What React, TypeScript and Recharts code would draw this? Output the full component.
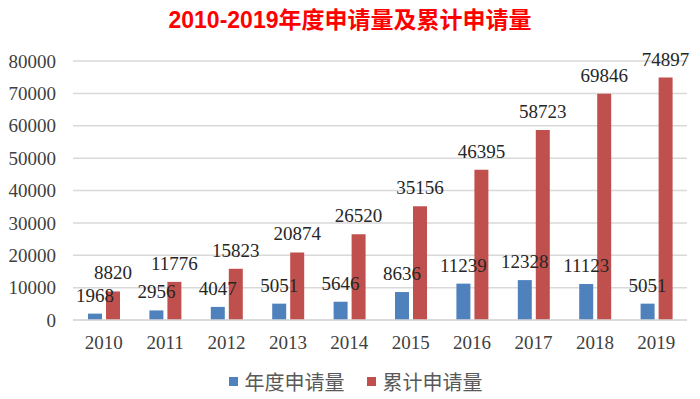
import React from "react";
import { BarChart, Bar, XAxis, YAxis, CartesianGrid, Legend, LabelList } from "recharts";

const years = ["2010", "2011", "2012", "2013", "2014", "2015", "2016", "2017", "2018", "2019"];
const annual = [1968, 2956, 4047, 5051, 5646, 8636, 11239, 12328, 11123, 5051];
const cumulative = [8820, 11776, 15823, 20874, 26520, 35156, 46395, 58723, 69846, 74897];
const yTicks = [0, 10000, 20000, 30000, 40000, 50000, 60000, 70000, 80000];

const data = years.map((y, i) => ({ year: y, annual: annual[i], cumulative: cumulative[i] }));

const BLUE = "#4F81BD";
const RED = "#C0504D";
const SERIF = "'Liberation Serif', 'DejaVu Serif', serif";
const CJK = "'Noto Sans CJK SC', 'Noto Sans', sans-serif";

const LegendContent = (props: any) => {
  const items = props.payload || [];
  return (
    <div style={{ display: "flex", justifyContent: "center", alignItems: "center", height: 30, paddingLeft: 24, fontFamily: CJK, fontSize: 20, color: "#595959" }}>
      {items.map((it: any, i: number) => (
        <div key={i} style={{ display: "flex", alignItems: "center", marginLeft: i ? 22 : 0 }}>
          <span style={{ width: 9, height: 9, background: it.color, display: "inline-block", marginRight: 7 }} />
          <span>{it.value}</span>
        </div>
      ))}
    </div>
  );
};

export default function App() {
  return (
    <div style={{ position: "absolute", left: 0, top: 0, width: 700, height: 399, background: "#fff" }}>
      <div
        style={{
          position: "absolute",
          left: 0,
          top: 6,
          width: 700,
          textAlign: "center",
          color: "#FF0000",
          fontWeight: "bold",
          fontSize: 23,
          fontFamily: "'Liberation Sans', 'Noto Sans CJK SC', sans-serif",
          lineHeight: "28px",
        }}
      >
        2010-2019年度申请量及累计申请量
      </div>
      <BarChart
        width={700}
        height={399}
        data={data}
        margin={{ top: 61, right: 13, left: 0, bottom: 3 }}
        barSize={14}
        barGap={4}
      >
        <CartesianGrid vertical={false} stroke="#d9d9d9" strokeWidth={1.5} />
        <XAxis
          dataKey="year"
          height={46}
          tickLine={false}
          axisLine={{ stroke: "#d9d9d9", strokeWidth: 1.5 }}
          tick={{ fill: "#404040", fontSize: 19, fontFamily: SERIF }}
          tickMargin={10}
          interval={0}
        />
        <YAxis
          width={73}
          domain={[0, 80000]}
          ticks={yTicks}
          tickLine={false}
          axisLine={false}
          tick={{ fill: "#404040", fontSize: 19, fontFamily: SERIF }}
          tickMargin={11}
          interval={0}
        />
        <Legend verticalAlign="bottom" height={30} content={<LegendContent />} />
        <Bar dataKey="annual" name="年度申请量" fill={BLUE} isAnimationActive={false}>
          <LabelList dataKey="annual" position="top" offset={12} style={{ fill: "#262626", fontSize: 19, fontFamily: SERIF }} />
        </Bar>
        <Bar dataKey="cumulative" name="累计申请量" fill={RED} isAnimationActive={false}>
          <LabelList dataKey="cumulative" position="top" offset={12} style={{ fill: "#262626", fontSize: 19, fontFamily: SERIF }} />
        </Bar>
      </BarChart>
    </div>
  );
}
